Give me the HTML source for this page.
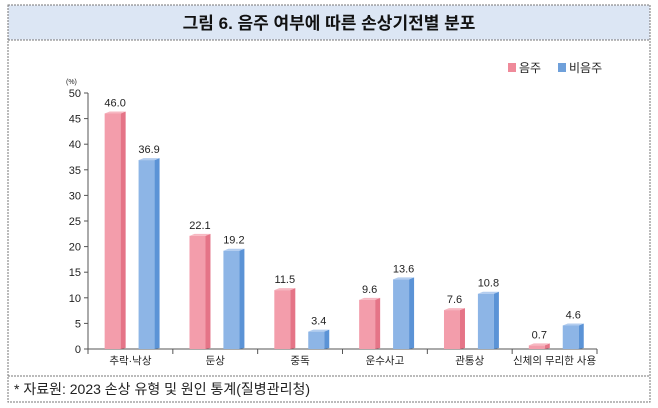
<!DOCTYPE html>
<html><head><meta charset="utf-8"><style>
body{margin:0;background:#fff;}
svg{display:block;font-family:"Liberation Sans","Noto Sans CJK KR",sans-serif;}
</style></head><body>
<svg width="658" height="408" viewBox="0 0 658 408">
<rect x="8" y="5" width="642" height="397" fill="#fff" stroke="#777" stroke-dasharray="2,1"/>
<rect x="8.5" y="5.5" width="641" height="34" fill="#dce6f4"/>
<line x1="8" y1="40" x2="650" y2="40" stroke="#777" stroke-dasharray="2,1"/>
<text x="329" y="29" text-anchor="middle" font-size="17" font-weight="bold" fill="#111">그림 6. 음주 여부에 따른 손상기전별 분포</text>
<line x1="8" y1="376" x2="650" y2="376" stroke="#777" stroke-dasharray="2,1"/>
<text x="14" y="394" font-size="14" fill="#222">* 자료원: 2023 손상 유형 및 원인 통계(질병관리청)</text>
<rect x="508" y="63" width="8" height="9" fill="#ef8a9a"/>
<text x="519" y="72" font-size="12" fill="#222">음주</text>
<rect x="558" y="63" width="8" height="9" fill="#6fa0da"/>
<text x="569" y="72" font-size="12" fill="#222">비음주</text>
<text x="66" y="84" font-size="7" fill="#222">(%)</text>
<g id="axes"></g><g id="bars"></g>
</svg>
<script>
const categories=["추락·낙상","둔상","중독","운수사고","관통상","신체의 무리한 사용"];
const drinking=[46.0,22.1,11.5,9.6,7.6,0.7];
const nonDrinking=[36.9,19.2,3.4,13.6,10.8,4.6];
const yTicks=[0,5,10,15,20,25,30,35,40,45,50];
const NS="http://www.w3.org/2000/svg";
const x0=88,x1=597,yBase=349,yTop=93,yMax=50;
const bw=(x1-x0)/categories.length;
const y=v=>yBase-(v/yMax)*(yBase-yTop);
const ax=document.getElementById('axes'),bg=document.getElementById('bars');
function mk(tag,attrs,parent){const e=document.createElementNS(NS,tag);for(const k in attrs)e.setAttribute(k,attrs[k]);parent.appendChild(e);return e;}
let l=mk('line',{x1:x0,y1:yBase,x2:x0,y2:yTop,stroke:'#555'},ax);


l=mk('line',{x1:x0,y1:yBase,x2:x1,y2:yBase,stroke:'#555'},ax);


yTicks.forEach(t=>{
  mk('line',{x1:x0-4,y1:y(t),x2:x0,y2:y(t),stroke:'#555'},ax);
  const tx=mk('text',{x:x0-7,y:y(t)+4,'text-anchor':'end','font-size':11,fill:'#222'},ax);
  tx.textContent=t;
  
  
});
for(let i=0;i<=categories.length;i++){mk('line',{x1:x0+i*bw,y1:yBase,x2:x0+i*bw,y2:yBase+5,stroke:'#555'},ax);}
categories.forEach((c,i)=>{
  const tx=mk('text',{x:x0+bw*(i+0.5),y:yBase+15,'text-anchor':'middle','font-size':10.5,fill:'#222'},ax);
  tx.textContent=c;
  
  
});
function bar(cx,v,front,side,top,name){
  const g=mk('g',{},bg);
  
  
  const w=16,d=5,yy=y(v);
  mk('rect',{x:cx-w/2-d/2,y:yy,width:w,height:yBase-yy,fill:front},g);
  mk('polygon',{points:`${cx+w/2-d/2},${yy} ${cx+w/2+d/2},${yy-2} ${cx+w/2+d/2},${yBase-1} ${cx+w/2-d/2},${yBase}`,fill:side},g);
  mk('polygon',{points:`${cx-w/2-d/2},${yy} ${cx-w/2+d/2},${yy-2} ${cx+w/2+d/2},${yy-2} ${cx+w/2-d/2},${yy}`,fill:top},g);
  const t=mk('text',{x:cx,y:yy-7,'text-anchor':'middle','font-size':11,fill:'#222'},g);
  t.textContent=v.toFixed(1);
}
categories.forEach((c,i)=>{
  const s=x0+i*bw;
  bar(s+bw*0.32,drinking[i],'#f39dab','#e57487','#f7b8c2','bar-drinking-'+i);
  bar(s+bw*0.72,nonDrinking[i],'#8db5e6','#5b93d6','#b3cdef','bar-nondrinking-'+i);
});
</script>
</body></html>
